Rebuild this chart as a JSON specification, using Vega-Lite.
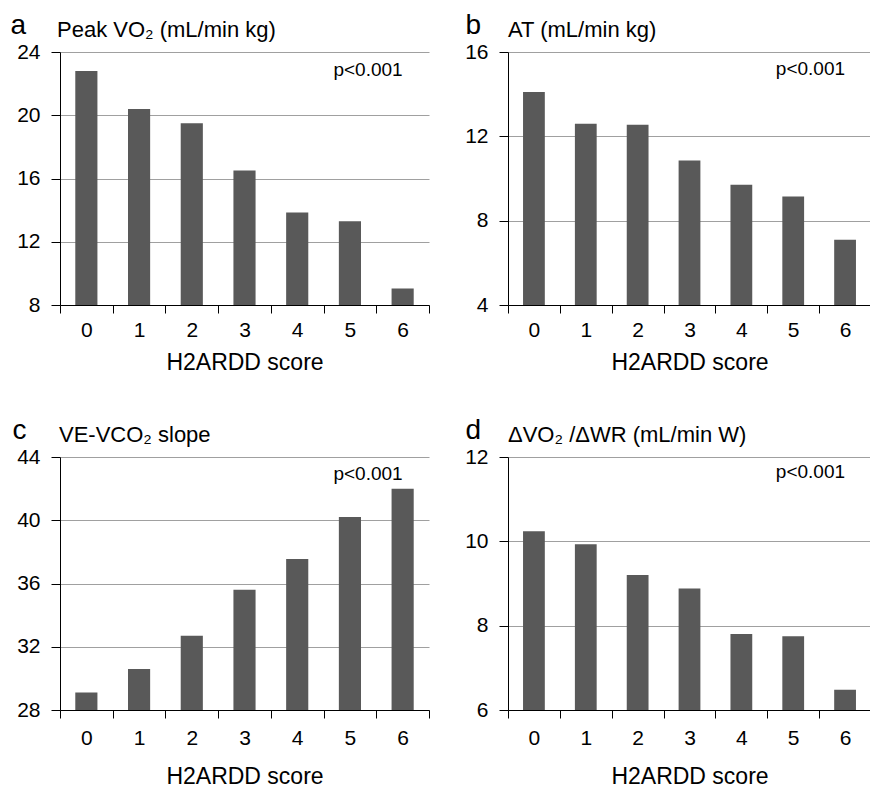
{
  "$schema": "https://vega.github.io/schema/vega-lite/v6.json",
  "padding": {"left": 10, "top": 11, "right": 0, "bottom": 0},
  "background": "white",
  "datasets": {
    "a": [
      {"score": 0, "value": 22.8}, {"score": 1, "value": 20.4}, {"score": 2, "value": 19.5},
      {"score": 3, "value": 16.5}, {"score": 4, "value": 13.85}, {"score": 5, "value": 13.3},
      {"score": 6, "value": 9.05}
    ],
    "b": [
      {"score": 0, "value": 14.1}, {"score": 1, "value": 12.6}, {"score": 2, "value": 12.55},
      {"score": 3, "value": 10.85}, {"score": 4, "value": 9.7}, {"score": 5, "value": 9.15},
      {"score": 6, "value": 7.1}
    ],
    "c": [
      {"score": 0, "value": 29.1}, {"score": 1, "value": 30.6}, {"score": 2, "value": 32.7},
      {"score": 3, "value": 35.6}, {"score": 4, "value": 37.55}, {"score": 5, "value": 40.2},
      {"score": 6, "value": 42.0}
    ],
    "d": [
      {"score": 0, "value": 10.24}, {"score": 1, "value": 9.93}, {"score": 2, "value": 9.2},
      {"score": 3, "value": 8.88}, {"score": 4, "value": 7.8}, {"score": 5, "value": 7.75},
      {"score": 6, "value": 6.48}
    ]
  },
  "columns": 2,
  "spacing": {"row": 42, "column": 34},
  "concat": [
    {
      "width": 369, "height": 253,
      "title": {"text": "Peak VO₂ (mL/min kg)", "dx": -3},
      "layer": [
        {
          "data": {"name": "a"},
          "mark": {"type": "bar", "color": "#595959", "width": {"band": 0.42}, "clip": true},
          "encoding": {
            "x": {"field": "score", "type": "ordinal", "title": "H2ARDD score", "scale": {"paddingInner": 0, "paddingOuter": 0}, "axis": {"labelPadding": 6, "titlePadding": 11}},
            "y": {"field": "value", "type": "quantitative", "scale": {"domain": [8, 24], "nice": false, "zero": false}, "axis": {"values": [8, 12, 16, 20, 24], "title": "a", "titleX": -50}}
          }
        },
        {
          "data": {"values": [{"score": 6, "value": 24, "label": "p<0.001"}]},
          "mark": {"type": "text", "align": "right", "baseline": "top", "dy": 9, "fontSize": 19, "color": "#000"},
          "encoding": {
            "x": {"field": "score", "type": "ordinal"},
            "y": {"field": "value", "type": "quantitative"},
            "text": {"field": "label"}
          }
        }
      ]
    },
    {
      "width": 363, "height": 253,
      "title": {"text": "AT (mL/min kg)", "dx": 0},
      "layer": [
        {
          "data": {"name": "b"},
          "mark": {"type": "bar", "color": "#595959", "width": {"band": 0.42}, "clip": true},
          "encoding": {
            "x": {"field": "score", "type": "ordinal", "title": "H2ARDD score", "scale": {"paddingInner": 0, "paddingOuter": 0}, "axis": {"labelPadding": 6, "titlePadding": 11}},
            "y": {"field": "value", "type": "quantitative", "scale": {"domain": [4, 16], "nice": false, "zero": false}, "axis": {"values": [4, 8, 12, 16], "title": "b", "titleX": -43}}
          }
        },
        {
          "data": {"values": [{"score": 6, "value": 16, "label": "p<0.001"}]},
          "mark": {"type": "text", "align": "right", "baseline": "top", "dy": 8, "fontSize": 19, "color": "#000"},
          "encoding": {
            "x": {"field": "score", "type": "ordinal"},
            "y": {"field": "value", "type": "quantitative"},
            "text": {"field": "label"}
          }
        }
      ]
    },
    {
      "width": 369, "height": 253,
      "title": {"text": "VE-VCO₂ slope", "dx": -1},
      "layer": [
        {
          "data": {"name": "c"},
          "mark": {"type": "bar", "color": "#595959", "width": {"band": 0.42}, "clip": true},
          "encoding": {
            "x": {"field": "score", "type": "ordinal", "title": "H2ARDD score", "scale": {"paddingInner": 0, "paddingOuter": 0}, "axis": {"labelPadding": 9, "titlePadding": 17}},
            "y": {"field": "value", "type": "quantitative", "scale": {"domain": [28, 44], "nice": false, "zero": false}, "axis": {"values": [28, 32, 36, 40, 44], "title": "c", "titleX": -48}}
          }
        },
        {
          "data": {"values": [{"score": 6, "value": 44, "label": "p<0.001"}]},
          "mark": {"type": "text", "align": "right", "baseline": "top", "dy": 8, "fontSize": 19, "color": "#000"},
          "encoding": {
            "x": {"field": "score", "type": "ordinal"},
            "y": {"field": "value", "type": "quantitative"},
            "text": {"field": "label"}
          }
        }
      ]
    },
    {
      "width": 363, "height": 253,
      "title": {"text": "ΔVO₂ /ΔWR (mL/min W)", "dx": 0},
      "layer": [
        {
          "data": {"name": "d"},
          "mark": {"type": "bar", "color": "#595959", "width": {"band": 0.42}, "clip": true},
          "encoding": {
            "x": {"field": "score", "type": "ordinal", "title": "H2ARDD score", "scale": {"paddingInner": 0, "paddingOuter": 0}, "axis": {"labelPadding": 9, "titlePadding": 17}},
            "y": {"field": "value", "type": "quantitative", "scale": {"domain": [6, 12], "nice": false, "zero": false}, "axis": {"values": [6, 8, 10, 12], "title": "d", "titleX": -43}}
          }
        },
        {
          "data": {"values": [{"score": 6, "value": 12, "label": "p<0.001"}]},
          "mark": {"type": "text", "align": "right", "baseline": "top", "dy": 6, "fontSize": 19, "color": "#000"},
          "encoding": {
            "x": {"field": "score", "type": "ordinal"},
            "y": {"field": "value", "type": "quantitative"},
            "text": {"field": "label"}
          }
        }
      ]
    }
  ],
  "config": {
    "font": "Liberation Sans",
    "view": {"stroke": null},
    "title": {"anchor": "start", "frame": "group", "fontSize": 22, "fontWeight": "normal", "color": "#000", "baseline": "alphabetic", "offset": -31},
    "axisX": {"tickBand": "extent", "tickSize": 8, "tickColor": "#000", "domainColor": "#000", "labelFontSize": 21, "labelColor": "#000", "labelAngle": 0, "titleFontSize": 23, "titleFontWeight": "normal", "titleColor": "#000", "grid": false},
    "axisY": {"tickSize": 9, "tickColor": "#000", "domainColor": "#000", "labelFontSize": 21, "labelColor": "#000", "labelPadding": 11, "grid": true, "gridColor": "#a0a0a0", "gridOpacity": 1, "titleAngle": 0, "titleAlign": "left", "titleBaseline": "alphabetic", "titleFontSize": 28, "titleFontWeight": "normal", "titleY": -19, "titleColor": "#000"}
  }
}
